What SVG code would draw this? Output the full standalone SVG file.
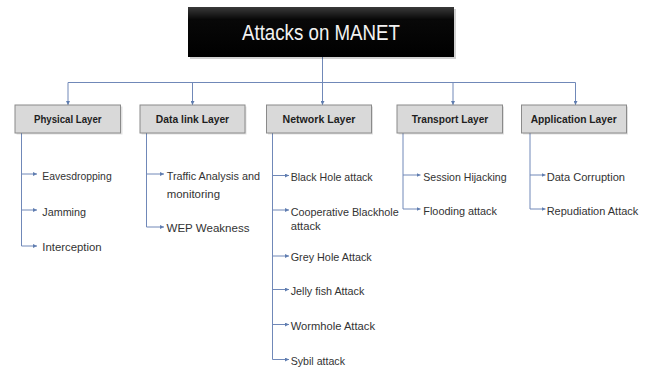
<svg xmlns="http://www.w3.org/2000/svg" width="651" height="369" viewBox="0 0 651 369">
  <defs>
    <linearGradient id="titleFill" x1="0" y1="0" x2="0" y2="1">
      <stop offset="0" stop-color="#3a3a3a"/>
      <stop offset="0.25" stop-color="#080808"/>
      <stop offset="1" stop-color="#000000"/>
    </linearGradient>
    <marker id="tip" viewBox="0 0 4 4" markerWidth="4" markerHeight="4" refX="4" refY="2" orient="auto" markerUnits="userSpaceOnUse">
      <path d="M0,0 L4,2 L0,4 z" fill="#5f7db0"/>
    </marker>
    <style>
      .wire { fill: none; stroke: #7088b8; stroke-width: 1; }
      .wire.arrow { marker-end: url(#tip); }
      .layer rect.box { fill: #d9d9d9; stroke: #8a8a8a; stroke-width: 1; }
      .layer rect.shade { fill: #000; opacity: 0.12; }
      .layer text { font-family: "Liberation Sans", Arial, sans-serif; font-weight: bold; font-size: 11.5px; fill: #1e1e1e; text-anchor: middle; }
      .item text { font-family: "Liberation Sans", Arial, sans-serif; font-size: 11.5px; fill: #333333; }
      .title text { font-family: "Liberation Sans", Arial, sans-serif; font-size: 22px; fill: #f2f2f2; text-anchor: middle; }
    </style>
  </defs>

  <rect width="651" height="369" fill="#ffffff"/>

  <!-- connectors -->
  <g id="connectors">
    <!-- root to layer bus -->
    <path class="wire" d="M322.5,57 V82.5"/>
    <path class="wire" d="M68,82.5 H575.5"/>
    <path class="wire arrow" d="M68,82.5 V105"/>
    <path class="wire arrow" d="M192.5,82.5 V105"/>
    <path class="wire arrow" d="M322.5,82.5 V105"/>
    <path class="wire arrow" d="M453,82.5 V105"/>
    <path class="wire arrow" d="M575.5,82.5 V105"/>

    <!-- physical layer -->
    <path class="wire arrow" d="M21.5,133 V246 H37"/>
    <path class="wire arrow" d="M21.5,174 H37"/>
    <path class="wire arrow" d="M21.5,210 H37"/>

    <!-- data link layer -->
    <path class="wire arrow" d="M146.5,133 V227 H164"/>
    <path class="wire arrow" d="M146.5,174 H164"/>

    <!-- network layer -->
    <path class="wire arrow" d="M272.5,133 V359.5 H289"/>
    <path class="wire arrow" d="M272.5,175.5 H289"/>
    <path class="wire arrow" d="M272.5,210 H289"/>
    <path class="wire arrow" d="M272.5,256 H289"/>
    <path class="wire arrow" d="M272.5,289.5 H289"/>
    <path class="wire arrow" d="M272.5,324.5 H289"/>

    <!-- transport layer -->
    <path class="wire arrow" d="M403,133 V209 H420.5"/>
    <path class="wire arrow" d="M403,175 H420.5"/>

    <!-- application layer -->
    <path class="wire arrow" d="M530,133 V209 H545.5"/>
    <path class="wire arrow" d="M530,175 H545.5"/>
  </g>

  <!-- root -->
  <g id="root" class="title">
    <rect x="190" y="9" width="266" height="50" fill="#000" opacity="0.18"/>
    <rect x="188" y="7" width="266" height="50" fill="url(#titleFill)"/>
    <text x="321" y="40" textLength="158" lengthAdjust="spacingAndGlyphs">Attacks on MANET</text>
  </g>

  <!-- layers -->
  <g id="physical-layer" class="layer">
    <rect class="shade" x="16.5" y="106.5" width="106" height="28"/>
    <rect class="box" x="15" y="105" width="105.5" height="28"/>
    <text x="67.8" y="123" textLength="67.7" lengthAdjust="spacingAndGlyphs">Physical Layer</text>
  </g>
  <g id="data-link-layer" class="layer">
    <rect class="shade" x="141.5" y="106.5" width="105" height="28"/>
    <rect class="box" x="140" y="105" width="105" height="28"/>
    <text x="192.5" y="123" textLength="73.3" lengthAdjust="spacingAndGlyphs">Data link Layer</text>
  </g>
  <g id="network-layer" class="layer">
    <rect class="shade" x="268" y="106.5" width="105" height="28"/>
    <rect class="box" x="266.5" y="105" width="105" height="28"/>
    <text x="319" y="123" textLength="73" lengthAdjust="spacingAndGlyphs">Network Layer</text>
  </g>
  <g id="transport-layer" class="layer">
    <rect class="shade" x="398.5" y="106.5" width="105.5" height="28"/>
    <rect class="box" x="397" y="105" width="105.5" height="28"/>
    <text x="450" y="123" textLength="76.6" lengthAdjust="spacingAndGlyphs">Transport Layer</text>
  </g>
  <g id="application-layer" class="layer">
    <rect class="shade" x="523" y="106.5" width="105" height="28"/>
    <rect class="box" x="521.5" y="105" width="105" height="28"/>
    <text x="573.7" y="123" textLength="86" lengthAdjust="spacingAndGlyphs">Application Layer</text>
  </g>

  <!-- physical layer attacks -->
  <g id="eavesdropping" class="item"><text x="42.3" y="179.5" textLength="69.4" lengthAdjust="spacingAndGlyphs">Eavesdropping</text></g>
  <g id="jamming" class="item"><text x="42.3" y="215.5" textLength="43.7" lengthAdjust="spacingAndGlyphs">Jamming</text></g>
  <g id="interception" class="item"><text x="42.3" y="251" textLength="59.4" lengthAdjust="spacingAndGlyphs">Interception</text></g>

  <!-- data link layer attacks -->
  <g id="traffic-analysis" class="item">
    <text x="166.7" y="180" textLength="93.3" lengthAdjust="spacingAndGlyphs">Traffic Analysis and</text>
    <text x="166.7" y="198" textLength="53.3" lengthAdjust="spacingAndGlyphs">monitoring</text>
  </g>
  <g id="wep-weakness" class="item"><text x="166.5" y="232" textLength="83" lengthAdjust="spacingAndGlyphs">WEP Weakness</text></g>

  <!-- network layer attacks -->
  <g id="black-hole" class="item"><text x="290.7" y="181" textLength="82" lengthAdjust="spacingAndGlyphs">Black Hole attack</text></g>
  <g id="cooperative-blackhole" class="item">
    <text x="290.7" y="215.5" textLength="108" lengthAdjust="spacingAndGlyphs">Cooperative Blackhole</text>
    <text x="290.7" y="230" textLength="30" lengthAdjust="spacingAndGlyphs">attack</text>
  </g>
  <g id="grey-hole" class="item"><text x="290.7" y="261" textLength="81" lengthAdjust="spacingAndGlyphs">Grey Hole Attack</text></g>
  <g id="jelly-fish" class="item"><text x="290.7" y="294.5" textLength="73.7" lengthAdjust="spacingAndGlyphs">Jelly fish Attack</text></g>
  <g id="wormhole" class="item"><text x="290.7" y="329.5" textLength="84.3" lengthAdjust="spacingAndGlyphs">Wormhole Attack</text></g>
  <g id="sybil" class="item"><text x="290.7" y="364.5" textLength="54.3" lengthAdjust="spacingAndGlyphs">Sybil attack</text></g>

  <!-- transport layer attacks -->
  <g id="session-hijacking" class="item"><text x="423.3" y="180.5" textLength="83.3" lengthAdjust="spacingAndGlyphs">Session Hijacking</text></g>
  <g id="flooding" class="item"><text x="423.3" y="214.5" textLength="73.7" lengthAdjust="spacingAndGlyphs">Flooding attack</text></g>

  <!-- application layer attacks -->
  <g id="data-corruption" class="item"><text x="546.7" y="180.5" textLength="78.3" lengthAdjust="spacingAndGlyphs">Data Corruption</text></g>
  <g id="repudiation" class="item"><text x="546.7" y="214.5" textLength="91.6" lengthAdjust="spacingAndGlyphs">Repudiation Attack</text></g>
</svg>
